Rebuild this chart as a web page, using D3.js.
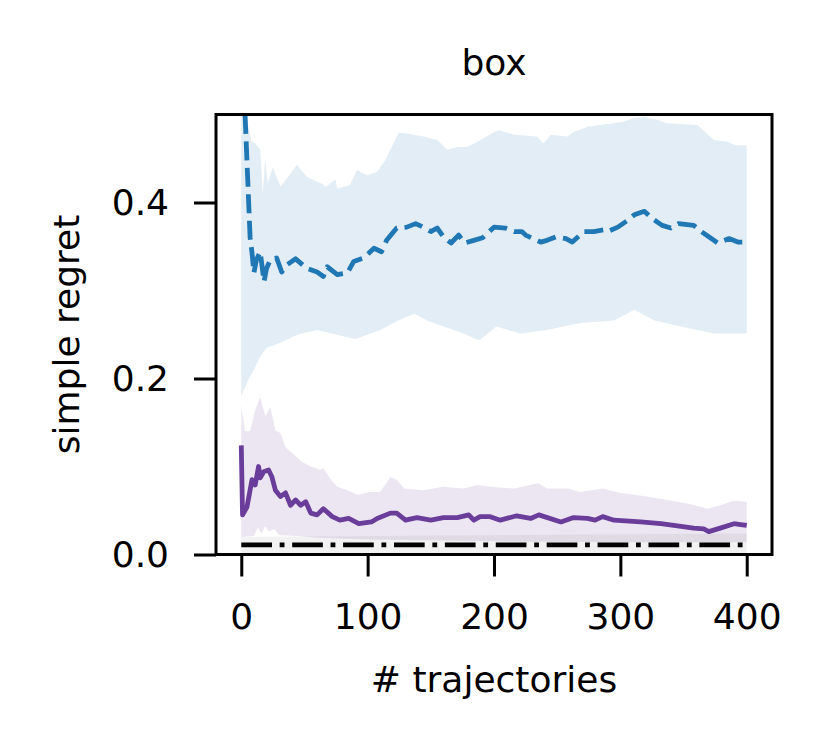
<!DOCTYPE html>
<html><head><meta charset="utf-8">
<script src="https://cdn.jsdelivr.net/npm/d3@7"></script>
<style>html,body{margin:0;padding:0;background:#fff}svg{display:block}text{font-family:"DejaVu Sans",sans-serif}</style>
</head><body><svg id="c" width="830" height="747"></svg>
<script>
// ---- data (x = # trajectories, value = simple regret) ----
const xTicks = [0, 100, 200, 300, 400];
const yTicks = [0.0, 0.2, 0.4];
const titleText = "box";
const xLabel = "# trajectories";
const yLabel = "simple regret";

const blueMean = [[0,0.62],[3,0.5],[5,0.43],[7,0.36],[8.5,0.343],[10,0.32],[12,0.335],[15,0.344],[18,0.31],[20,0.325],[23,0.335],[28,0.337],[32,0.321],[36,0.329],[43,0.336],[52,0.325],[60,0.321],[65,0.316],[68,0.327],[76,0.318],[84,0.320],[89,0.333],[97,0.337],[105,0.348],[111,0.344],[115,0.357],[123,0.371],[131,0.372],[138,0.376],[144,0.372],[150,0.367],[155,0.371],[160,0.361],[166,0.354],[172,0.363],[177,0.354],[184,0.357],[191,0.360],[200,0.372],[209,0.371],[216,0.367],[222,0.367],[225,0.363],[231,0.359],[237,0.355],[242,0.357],[249,0.361],[257,0.359],[262,0.355],[271,0.367],[279,0.367],[287,0.369],[290,0.367],[298,0.372],[306,0.380],[311,0.386],[319,0.390],[325,0.382],[333,0.374],[340,0.371],[346,0.376],[358,0.374],[364,0.367],[372,0.359],[377,0.354],[386,0.359],[393,0.355],[400,0.355]];
const blueUpper = [[0,0.6],[3,0.52],[5,0.49],[8,0.47],[11,0.467],[15,0.46],[17,0.41],[19,0.45],[21,0.422],[25,0.44],[31,0.418],[39,0.433],[44,0.443],[52,0.429],[63,0.422],[67,0.418],[74.5,0.426],[76,0.416],[86,0.42],[91.5,0.437],[99.5,0.431],[107.5,0.435],[114,0.448],[118,0.46],[124.5,0.479],[128.5,0.479],[136.5,0.477],[144.5,0.475],[155,0.471],[163,0.46],[171,0.463],[179,0.463],[187,0.469],[199,0.479],[204,0.482],[216,0.477],[234,0.475],[239,0.467],[245,0.477],[258,0.475],[263,0.48],[274,0.486],[284,0.488],[295,0.49],[303,0.492],[311,0.496],[319,0.497],[329,0.494],[337,0.49],[361,0.488],[374,0.471],[385,0.469],[391,0.465],[400,0.465]];
const blueLower = [[0,0.18],[3,0.19],[6,0.2],[10,0.21],[15,0.225],[20,0.235],[30,0.24],[45,0.25],[60,0.255],[75,0.25],[90,0.245],[100,0.25],[110,0.255],[124,0.266],[137,0.274],[147,0.266],[160,0.259],[176,0.251],[187,0.244],[189,0.244],[202,0.259],[221,0.251],[242,0.255],[268,0.263],[295,0.266],[311,0.278],[327,0.266],[348,0.259],[374,0.251],[400,0.251]];

const purpleMean = [[0,0.124],[1,0.045],[4.5,0.054],[8.5,0.085],[11,0.079],[13.7,0.1],[15,0.087],[17.7,0.094],[21.6,0.096],[24.3,0.088],[27,0.073],[31,0.066],[35,0.07],[39,0.056],[43,0.062],[47,0.056],[51,0.06],[55,0.047],[60,0.045],[65,0.052],[72,0.043],[78,0.039],[85,0.041],[93,0.035],[103,0.037],[107.5,0.041],[118,0.047],[123,0.047],[130,0.039],[139,0.042],[150,0.039],[160,0.042],[171,0.042],[180,0.045],[184,0.039],[189,0.043],[197,0.043],[205,0.039],[218,0.044],[229,0.041],[235.5,0.045],[253,0.037],[263,0.042],[274,0.041],[280,0.039],[286,0.043],[295,0.039],[316,0.037],[332,0.035],[348,0.032],[358,0.030],[366,0.029],[370,0.026],[379,0.030],[390,0.035],[395,0.034],[400,0.033]];
const purpleUpper = [[0,0.17],[3,0.14],[7,0.14],[11,0.164],[15,0.179],[19,0.157],[23,0.168],[27,0.141],[31,0.138],[35,0.122],[42,0.113],[48,0.105],[55,0.1],[63,0.096],[65,0.098],[71,0.085],[76,0.077],[84,0.073],[92,0.068],[102,0.071],[110,0.071],[118,0.088],[123,0.085],[129,0.075],[144,0.073],[160,0.077],[176,0.075],[187,0.079],[197,0.077],[216,0.075],[235,0.081],[242,0.075],[259,0.075],[268,0.071],[286,0.075],[300,0.070],[321,0.066],[337,0.062],[353,0.058],[369,0.052],[379,0.056],[390,0.061],[400,0.060]];
const purpleLower = [[0,0.02],[10,0.021],[13,0.03],[16,0.024],[19,0.032],[22,0.026],[26,0.029],[30,0.022],[45,0.021],[60,0.019],[100,0.017],[200,0.015],[300,0.014],[400,0.014]];

const optimumMean = [[0,0.011],[400,0.011]];
const optimumUpper = [[0,0.020],[400,0.024]];
const optimumLower = [[0,0.0],[400,0.001]];

// ---- layout ----
const svg = d3.select("#c");
const L = 216, R = 772, T = 114.5, B = 554.5;
const x = d3.scaleLinear().domain([-20, 420]).range([L, R]);
const y = d3.scaleLinear().domain([0, 0.5]).range([B, T]);
const FS = 36;

svg.append("rect").attr("width",830).attr("height",747).attr("fill","#fff");
svg.append("defs").append("clipPath").attr("id","clip")
  .append("rect").attr("x",L).attr("y",T).attr("width",R-L).attr("height",B-T);

const plot = svg.append("g").attr("clip-path","url(#clip)");
const line = d3.line().x(d=>x(d[0])).y(d=>y(d[1]));
function band(upper, lower){
  return line(upper.concat(lower.slice().reverse())) + "Z";
}
plot.append("path").attr("d", band(blueUpper, blueLower)).attr("fill","#1f77b4").attr("fill-opacity",0.13);
plot.append("path").attr("d", band(purpleUpper, purpleLower)).attr("fill","#6a3d9a").attr("fill-opacity",0.13);
plot.append("path").attr("d", band(optimumUpper, optimumLower)).attr("fill","#000").attr("fill-opacity",0.05);

plot.append("path").attr("d", line(purpleMean)).attr("fill","none").attr("stroke","#6a3d9a")
  .attr("stroke-width",4.8).attr("stroke-linejoin","round");
plot.append("path").attr("d", line(blueMean)).attr("fill","none").attr("stroke","#1f77b4")
  .attr("stroke-width",4.8).attr("stroke-dasharray","19,7.5").attr("stroke-linejoin","round");
plot.append("path").attr("d", line(optimumMean)).attr("fill","none").attr("stroke","#000")
  .attr("stroke-width",4.8).attr("stroke-dasharray","30.7,7.7,4.8,7.7");

// axes
const xAxis = d3.axisBottom(x).tickValues(xTicks).tickFormat(d3.format("d")).tickSize(22).tickSizeOuter(0).tickPadding(27);
const yAxis = d3.axisLeft(y).tickValues(yTicks).tickFormat(d3.format(".1f")).tickSize(22).tickSizeOuter(0).tickPadding(25);
const gx = svg.append("g").attr("transform",`translate(0,${B})`).call(xAxis);
const gy = svg.append("g").attr("transform",`translate(${L},0)`).call(yAxis);
[gx, gy].forEach(g=>{
  g.select(".domain").remove();
  g.selectAll(".tick line").attr("stroke","#000").attr("stroke-width",3);
  g.selectAll(".tick text").attr("fill","#000").style("font-size",FS+"px").style("font-family","DejaVu Sans");
});

// frame
svg.append("rect").attr("x",L).attr("y",T).attr("width",R-L).attr("height",B-T)
  .attr("fill","none").attr("stroke","#000").attr("stroke-width",3);

// texts
svg.append("text").attr("x",(L+R)/2).attr("y",75).attr("text-anchor","middle")
  .style("font-size",FS+"px").text(titleText);
svg.append("text").attr("x",(L+R)/2).attr("y",692).attr("text-anchor","middle")
  .style("font-size",FS+"px").text(xLabel);
svg.append("text").attr("transform",`translate(79,${(T+B)/2}) rotate(-90)`).attr("text-anchor","middle")
  .style("font-size",FS+"px").text(yLabel);
</script></body></html>
